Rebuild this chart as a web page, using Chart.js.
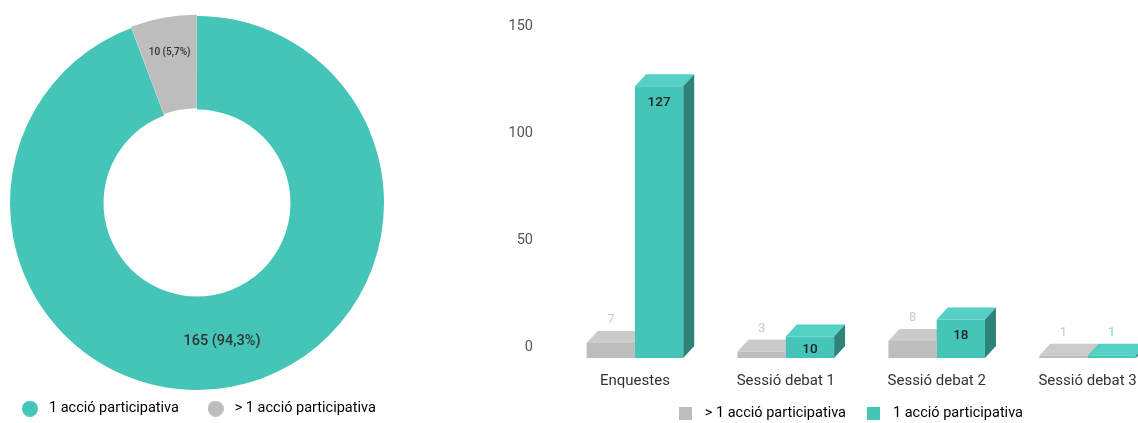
<!DOCTYPE html>
<html>
<head>
<meta charset="utf-8">
<script src="https://cdn.jsdelivr.net/npm/chart.js@4.4.1/dist/chart.umd.min.js"></script>
<style>
  html, body { margin: 0; padding: 0; background: #fff; overflow: hidden; }
  body { width: 1138px; height: 423px; position: relative; }
  #donutBox { position: absolute; left: -20px; top: 0; }
  #barBox { position: absolute; left: 480px; top: 0; }
</style>
</head>
<body>
<div id="donutBox"><canvas id="donut" width="434" height="423"></canvas></div>
<div id="barBox"><canvas id="bars" width="683" height="423"></canvas></div>
<script>
// dades del gràfic circular
const serieNames = ['1 acció participativa', '> 1 acció participativa'];
const totalValues = [165, 10];
const totalPercent = ['94,3%', '5,7%'];

// dades del gràfic de barres
const activities = ['Enquestes', 'Sessió debat 1', 'Sessió debat 2', 'Sessió debat 3'];
const moreThanOne = [7, 3, 8, 1];
const onlyOne = [127, 10, 18, 1];
const yTicks = [0, 50, 100, 150];

const TEAL = '#45c4b8';
const GRAY = '#bdbdbd';
const FONT = 'Roboto, "Open Sans", sans-serif';

Chart.defaults.font.family = FONT;
Chart.defaults.color = '#555';

// marcador de la llegenda en un canvas petit
function makeMarker(shape, color, size) {
  const c = document.createElement('canvas');
  c.width = size;
  c.height = size;
  const g = c.getContext('2d');
  g.fillStyle = color;
  if (shape === 'circle') {
    g.beginPath();
    g.arc(size / 2, size / 2, size / 2, 0, Math.PI * 2);
    g.fill();
  } else {
    g.fillRect(0, 0, size, size);
  }
  return c;
}

//GRÀFIC CIRCULAR
const donutLabels = {
  id: 'donutLabels',
  afterDatasetsDraw(chart) {
    const ctx = chart.ctx;
    const total = totalValues.reduce((a, b) => a + b, 0);
    chart.getDatasetMeta(0).data.forEach((arc, i) => {
      const mid = (arc.startAngle + arc.endAngle) / 2;
      const small = totalValues[i] / total < 0.1;
      const r = arc.innerRadius + (arc.outerRadius - arc.innerRadius) * (small ? 0.64 : 0.5);
      const x = arc.x + Math.cos(mid) * r;
      const y = arc.y + Math.sin(mid) * r;
      ctx.save();
      ctx.fillStyle = '#333';
      ctx.font = (small ? '500 10px ' : '500 14.5px ') + FONT;
      ctx.textAlign = 'center';
      ctx.textBaseline = 'middle';
      ctx.fillText(totalValues[i] + ' (' + totalPercent[i] + ')', x, y);
      ctx.restore();
    });
  }
};

const donutColors = [TEAL, GRAY];
const donutMarkers = donutColors.map(c => makeMarker('circle', c, 16));

new Chart(document.getElementById('donut'), {
  type: 'doughnut',
  data: {
    labels: serieNames,
    datasets: [{
      data: totalValues,
      backgroundColor: donutColors,
      borderWidth: 0,
      offset: [0, 3],
    }],
  },
  options: {
    responsive: false,
    animation: false,
    radius: 187,
    cutout: '50%',
    layout: { padding: { top: 29.5, right: 0, bottom: 0, left: 0 } },
    plugins: {
      tooltip: { enabled: false },
      legend: {
        position: 'bottom',
        maxHeight: 46.5,
        labels: {
          usePointStyle: true,
          pointStyleWidth: 23.5,
          boxHeight: 14,
          padding: 25,
          color: '#555',
          font: { size: 14.5 },
          generateLabels: () => serieNames.map((name, i) => ({
            text: name,
            fillStyle: donutColors[i],
            strokeStyle: donutColors[i],
            lineWidth: 0,
            pointStyle: donutMarkers[i],
            hidden: false,
            index: i,
          })),
        },
      },
    },
  },
  plugins: [donutLabels],
});

//GRÀFIC DE BARRES AMB EFECTE 3D
const depthX = 11;
const depthY = 12;
const legendShift = 27;
const faceColors = [
  { top: '#cbcbcb', side: '#a4a4a4', label: '#c9c9c9' },
  { top: '#55d0c4', side: '#2e8379', label: '#7fd9cf' },
];

const bar3d = {
  id: 'bar3d',
  afterLayout(chart) {
    // centra la llegenda com a l'original
    chart.legend.left += legendShift;
    chart.legend.right += legendShift;
  },
  beforeDatasetsDraw(chart) {
    // cara superior i lateral; la cara frontal la dibuixa Chart.js
    const ctx = chart.ctx;
    const metas = chart.data.datasets.map((ds, di) => chart.getDatasetMeta(di));
    activities.forEach((cat, i) => {
      metas.forEach((meta, di) => {
        const col = faceColors[di];
        const { x, y, base, width } = meta.data[i].getProps(['x', 'y', 'base', 'width'], true);
        const l = x - width / 2;
        const r = x + width / 2;
        ctx.save();
        ctx.fillStyle = col.top;
        ctx.beginPath();
        ctx.moveTo(l, y);
        ctx.lineTo(l + depthX, y - depthY);
        ctx.lineTo(r + depthX, y - depthY);
        ctx.lineTo(r, y);
        ctx.closePath();
        ctx.fill();
        ctx.fillStyle = col.side;
        ctx.beginPath();
        ctx.moveTo(r, y);
        ctx.lineTo(r + depthX, y - depthY);
        ctx.lineTo(r + depthX, base - depthY);
        ctx.lineTo(r, base);
        ctx.closePath();
        ctx.fill();
        ctx.restore();
      });
    });
  },
  afterDatasetsDraw(chart) {
    const ctx = chart.ctx;
    chart.data.datasets.forEach((ds, di) => {
      chart.getDatasetMeta(di).data.forEach((bar, i) => {
        const v = ds.data[i];
        const { x, y, base } = bar.getProps(['x', 'y', 'base'], true);
        ctx.save();
        ctx.textAlign = 'center';
        ctx.textBaseline = 'middle';
        if (v >= 10) {
          ctx.fillStyle = '#222';
          ctx.font = '500 13.5px ' + FONT;
          ctx.fillText(v, x, Math.min(y + 16, (y + base) / 2 + 2));
        } else {
          ctx.fillStyle = faceColors[di].label;
          ctx.font = '13px ' + FONT;
          ctx.fillText(v, x, y - depthY - 11);
        }
        ctx.restore();
      });
    });
  }
};

const barColors = [GRAY, TEAL];
const barMarkers = barColors.map(c => makeMarker('square', c, 13));

new Chart(document.getElementById('bars'), {
  type: 'bar',
  data: {
    labels: activities,
    datasets: [{
      label: '> 1 acció participativa',
      data: moreThanOne,
      backgroundColor: GRAY,
    }, {
      label: '1 acció participativa',
      data: onlyOne,
      backgroundColor: TEAL,
    }],
  },
  options: {
    responsive: false,
    animation: false,
    layout: { padding: { top: 37, right: 0, bottom: 0, left: 0 } },
    datasets: {
      bar: { categoryPercentage: 0.64, barPercentage: 1, borderWidth: 0 },
    },
    scales: {
      x: {
        grid: { display: false, drawTicks: false },
        border: { display: false },
        afterFit: s => { s.height = 32; },
        ticks: { color: '#333', font: { size: 15 }, padding: 14 },
      },
      y: {
        min: 0,
        max: 150,
        grid: { display: false, drawTicks: false },
        border: { display: false },
        afterFit: s => { s.width = 79.5; },
        afterBuildTicks: s => { s.ticks = yTicks.map(v => ({ value: v })); },
        ticks: { color: '#555', font: { size: 14.5 }, padding: 26.5, labelOffset: -11 },
      },
    },
    plugins: {
      tooltip: { enabled: false },
      legend: {
        position: 'bottom',
        maxHeight: 33,
        labels: {
          usePointStyle: true,
          pointStyleWidth: 23.5,
          boxHeight: 13,
          padding: 16.25,
          color: '#444',
          font: { size: 14.5 },
          generateLabels: chart => chart.data.datasets.map((ds, i) => ({
            text: ds.label,
            fillStyle: barColors[i],
            strokeStyle: barColors[i],
            lineWidth: 0,
            pointStyle: barMarkers[i],
            hidden: false,
            datasetIndex: i,
          })),
        },
      },
    },
  },
  plugins: [bar3d],
});
</script>
</body>
</html>
